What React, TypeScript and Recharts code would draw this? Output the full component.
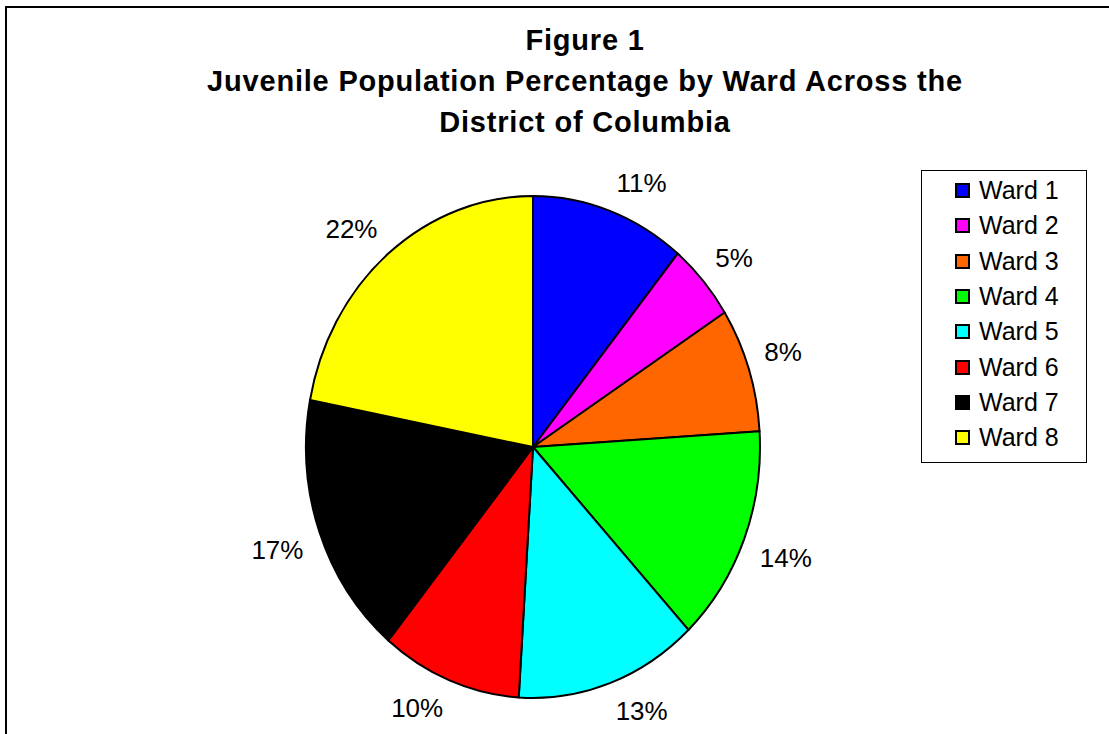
import React from "react";
import { Legend, Pie, PieChart, Cell } from "recharts";

// values (percent of DC juveniles living in each ward)
const wards = ["Ward 1", "Ward 2", "Ward 3", "Ward 4", "Ward 5", "Ward 6", "Ward 7", "Ward 8"];
const shares = [11, 5, 8, 14, 13, 10, 17, 22];
const colors = ["#0000FF", "#FF00FF", "#FF6600", "#00FF00", "#00FFFF", "#FF0000", "#000000", "#FFFF00"];

const titleLines = [
  "Figure 1",
  "Juvenile Population Percentage by Ward Across the",
  "District of Columbia",
];

const data = wards.map((name, i) => ({ name, value: shares[i] }));

const FONT = '"Liberation Sans", Arial, sans-serif';
// the original pie is a little taller than wide
const ASPECT = 251 / 227;
const RAD = Math.PI / 180;

function ellipsePoint(cx: number, cy: number, rx: number, ry: number, angle: number) {
  return [cx + rx * Math.cos(-angle * RAD), cy + ry * Math.sin(-angle * RAD)];
}

function EllipseSector(props: any) {
  const { cx, cy, outerRadius, startAngle, endAngle, fill } = props;
  const rx = outerRadius;
  const ry = outerRadius * ASPECT;
  const [x1, y1] = ellipsePoint(cx, cy, rx, ry, startAngle);
  const [x2, y2] = ellipsePoint(cx, cy, rx, ry, endAngle);
  const large = Math.abs(endAngle - startAngle) > 180 ? 1 : 0;
  const sweep = startAngle > endAngle ? 1 : 0;
  return (
    <path
      d={`M${cx},${cy} L${x1},${y1} A${rx},${ry} 0 ${large} ${sweep} ${x2},${y2} Z`}
      fill={fill}
      stroke="#000"
      strokeWidth={2}
      strokeLinejoin="round"
    />
  );
}

function renderLabel(props: any) {
  const { cx, cy, midAngle, outerRadius, value } = props;
  const rx = outerRadius;
  const ry = outerRadius * ASPECT;
  const [ex, ey] = ellipsePoint(cx, cy, rx, ry, midAngle);
  const dx = Math.cos(-midAngle * RAD);
  const dy = Math.sin(-midAngle * RAD);
  const text = `${value}%`;
  const halfW = text.length === 3 ? 26 : 18;
  const halfH = 12;
  const gap = 17;
  const x = ex + Math.sign(dx) * halfW + dx * gap;
  const y = ey + Math.sign(dy) * halfH + dy * gap;
  return (
    <text
      x={x}
      y={y}
      textAnchor="middle"
      dominantBaseline="central"
      fontSize={26}
      fontFamily={FONT}
      fill="#000"
    >
      {text}
    </text>
  );
}

function renderLegend(props: any) {
  const { payload } = props;
  return (
    <div
      style={{
        boxSizing: "border-box",
        width: 166,
        height: 293,
        border: "1px solid #000",
        background: "#fff",
        paddingTop: 2,
        fontFamily: FONT,
      }}
    >
      {(payload || []).map((entry: any, i: number) => (
        <div
          key={i}
          style={{ display: "flex", alignItems: "center", height: 35.3, paddingLeft: 33 }}
        >
          <span
            style={{
              boxSizing: "border-box",
              display: "inline-block",
              width: 15,
              height: 15,
              border: "2px solid #000",
              background: entry.color,
              marginRight: 9,
            }}
          />
          <span style={{ fontSize: 25, color: "#000" }}>{entry.value}</span>
        </div>
      ))}
    </div>
  );
}

export default function App() {
  return (
    <div
      style={{
        position: "absolute",
        left: 0,
        top: 0,
        width: 1109,
        height: 734,
        overflow: "hidden",
        background: "#fff",
      }}
    >
      <div
        style={{
          position: "absolute",
          left: 5,
          top: 6,
          width: 1200,
          height: 800,
          border: "2px solid #000",
        }}
      />
      <div
        style={{
          position: "absolute",
          left: 0,
          top: 20,
          width: 1170,
          textAlign: "center",
          fontFamily: FONT,
          fontWeight: "bold",
          fontSize: 29,
          lineHeight: "41px",
          letterSpacing: 0.8,
          color: "#000",
        }}
      >
        {titleLines.map((t) => (
          <div key={t}>{t}</div>
        ))}
      </div>
      <div style={{ position: "absolute", left: 0, top: 0 }}>
        <PieChart width={1109} height={734} margin={{ top: 0, right: 0, bottom: 0, left: 0 }}>
          <Pie
            data={data}
            dataKey="value"
            nameKey="name"
            cx={533}
            cy={447}
            outerRadius={227}
            startAngle={90}
            endAngle={-270}
            label={renderLabel}
            labelLine={false}
            shape={EllipseSector}
            isAnimationActive={false}
          >
            {data.map((d, i) => (
              <Cell key={d.name} fill={colors[i]} />
            ))}
          </Pie>
          <Legend
            layout="vertical"
            align="right"
            verticalAlign="top"
            content={renderLegend}
            wrapperStyle={{ left: 921, top: 170, width: 166, height: 293 }}
          />
        </PieChart>
      </div>
    </div>
  );
}
